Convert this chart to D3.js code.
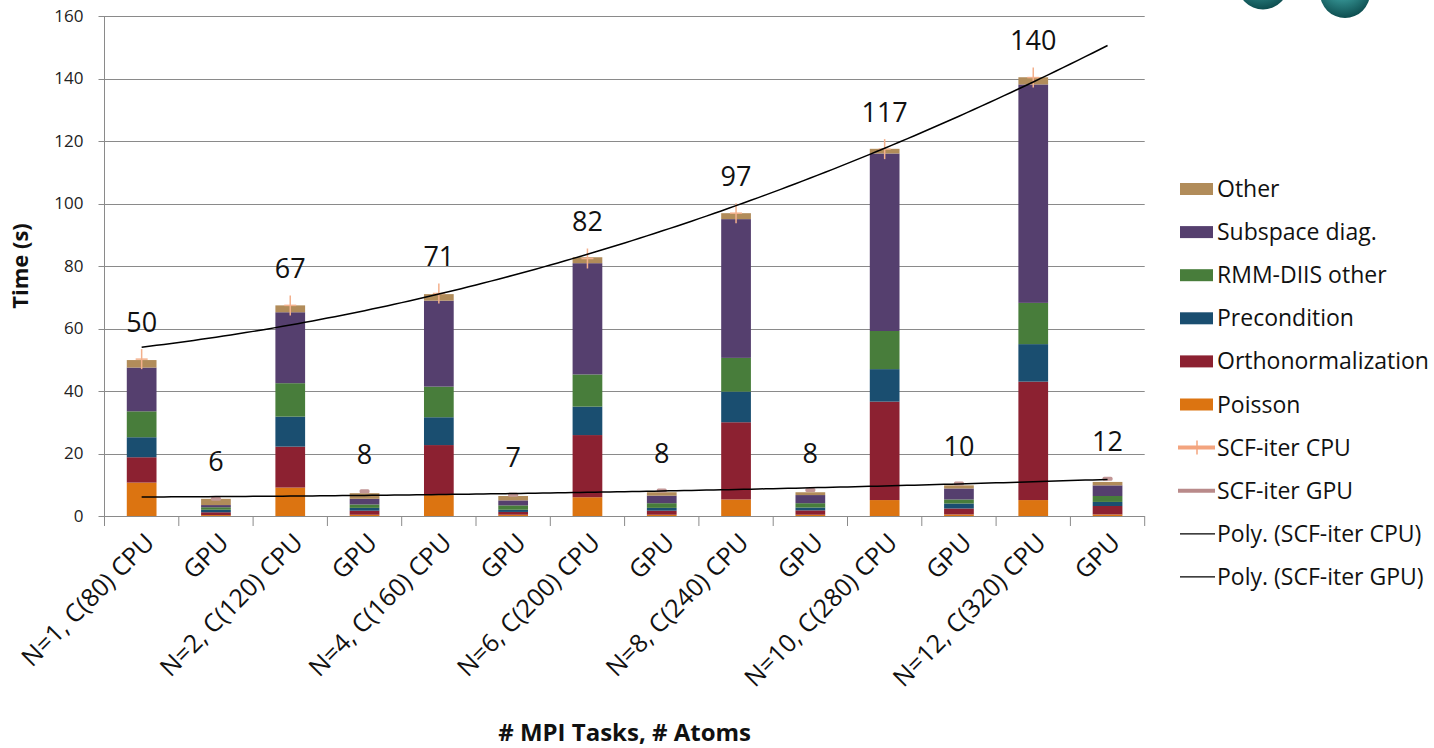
<!DOCTYPE html>
<html><head><meta charset="utf-8">
<script src="https://cdn.jsdelivr.net/npm/d3@7"></script>
<style>body{margin:0;background:#fff;} svg{display:block;font-family:"Open Sans",sans-serif;}</style>
</head><body><svg id="c" width="1434" height="748"></svg>
<script>
const categories = ["N=1, C(80) CPU","GPU","N=2, C(120) CPU","GPU","N=4, C(160) CPU","GPU","N=6, C(200) CPU","GPU","N=8, C(240) CPU","GPU","N=10, C(280) CPU","GPU","N=12, C(320) CPU","GPU"];
const poisson      = [10.7,0.3, 9.1,0.4, 6.7,0.4, 6.0,0.4, 5.3,0.4, 5.1,0.5, 5.1,0.5];
const ortho        = [8.1,0.9, 13.1,1.3, 16.0,0.9, 19.9,1.3, 24.7,1.4, 31.5,1.9, 37.9,2.7];
const precondition = [6.4,0.8, 9.6,0.9, 8.9,0.7, 9.1,0.9, 9.8,0.9, 10.4,1.6, 12.0,1.3];
const rmmDiis      = [8.3,0.8, 10.7,1.1, 9.8,1.4, 10.3,1.5, 10.8,1.4, 12.2,1.3, 13.2,1.9];
const subspace     = [14.0,0.7, 22.7,1.8, 27.5,1.6, 35.6,2.4, 44.4,2.6, 56.8,3.5, 69.9,3.4];
const other        = [2.4,2.0, 2.2,1.8, 2.1,1.4, 1.9,1.1, 1.9,0.9, 1.5,1.0, 2.3,1.1];
const scfCpu = [50.2,null,67.4,null,71.2,null,82.4,null,96.9,null,117.4,null,140.3,null];
const scfGpu = [null,5.5,null,7.9,null,6.8,null,8.2,null,8.3,null,10.4,null,11.9];
const yTicks = [0,20,40,60,80,100,120,140,160];
const seriesNames = ["Poisson","Orthonormalization","Precondition","RMM-DIIS other","Subspace diag.","Other"];
const seriesColors = ["#dc7411","#8c2131","#1a4e70","#487d3b","#553f6e","#b18c5a"];

const svg = d3.select("#c");
const L = 104.5, R = 1144.7, T = 16, B = 516;

const x = d3.scaleBand().domain(categories.map((c,i)=>i)).range([L,R]).paddingInner(0.6).paddingOuter(0.3);
const y = d3.scaleLinear().domain([0,160]).range([B,T]);
const cx = i => x(i) + x.bandwidth()/2;

// spheres (decorative image at top right)
const defs = svg.append("defs");
const rg = defs.append("radialGradient").attr("id","sph").attr("cx","0.45").attr("cy","0.3").attr("r","0.7");
rg.append("stop").attr("offset","0%").attr("stop-color","#9fe0e0");
rg.append("stop").attr("offset","35%").attr("stop-color","#3a9c9c");
rg.append("stop").attr("offset","100%").attr("stop-color","#0d4d4f");
svg.append("circle").attr("cx",1263).attr("cy",-16).attr("r",25.5).attr("fill","url(#sph)");
svg.append("circle").attr("cx",1345).attr("cy",-7).attr("r",25).attr("fill","url(#sph)");

// gridlines
svg.append("g").selectAll("line").data(yTicks).join("line")
  .attr("x1",L-6).attr("x2",R).attr("y1",d=>Math.round(y(d))+0.5).attr("y2",d=>Math.round(y(d))+0.5)
  .attr("stroke","#8a8a8a").attr("stroke-width",1);
svg.append("line").attr("x1",L).attr("x2",L).attr("y1",T).attr("y2",B).attr("stroke","#8a8a8a");
svg.append("g").selectAll("text").data(yTicks).join("text")
  .attr("x",L-21).attr("y",d=>y(d)).attr("dy","0.35em").attr("text-anchor","end")
  .attr("font-size",17).attr("fill","#222").text(d=>d);

// x axis tick marks at band boundaries
const bounds = d3.range(categories.length+1).map(i=>L + i*(R-L)/categories.length);
svg.append("g").selectAll("line").data(bounds).join("line")
  .attr("x1",d=>d).attr("x2",d=>d).attr("y1",B).attr("y2",B+10).attr("stroke","#8a8a8a");

// stacked bars
const rows = categories.map((c,i)=>({i, Poisson:poisson[i], Orthonormalization:ortho[i], Precondition:precondition[i], "RMM-DIIS other":rmmDiis[i], "Subspace diag.":subspace[i], Other:other[i]}));
const stack = d3.stack().keys(seriesNames)(rows);
svg.append("g").selectAll("g").data(stack).join("g")
  .attr("fill",(d,k)=>seriesColors[k])
  .selectAll("rect").data(d=>d).join("rect")
  .attr("x",d=>x(d.data.i)).attr("width",x.bandwidth())
  .attr("y",d=>y(d[1])).attr("height",d=>y(d[0])-y(d[1]));

// polynomial trend (order 2, least squares)
function polyfit(xs, ys, deg){
  const n = deg+1, A = [], b = [];
  for(let r=0;r<n;r++){ A.push([]); for(let c=0;c<n;c++) A[r].push(d3.sum(xs,v=>Math.pow(v,r+c))); b.push(d3.sum(xs,(v,k)=>ys[k]*Math.pow(v,r))); }
  for(let p=0;p<n;p++){ let m=p; for(let r=p+1;r<n;r++) if(Math.abs(A[r][p])>Math.abs(A[m][p])) m=r;
    [A[p],A[m]]=[A[m],A[p]]; [b[p],b[m]]=[b[m],b[p]];
    for(let r=p+1;r<n;r++){ const f=A[r][p]/A[p][p]; for(let c=p;c<n;c++) A[r][c]-=f*A[p][c]; b[r]-=f*b[p]; } }
  const co = new Array(n).fill(0);
  for(let r=n-1;r>=0;r--){ let s=b[r]; for(let c=r+1;c<n;c++) s-=A[r][c]*co[c]; co[r]=s/A[r][r]; }
  return t => co.reduce((acc,cc,k)=>acc+cc*Math.pow(t,k),0);
}
const xi = d3.scaleLinear().domain([1,categories.length]).range([cx(0), cx(categories.length-1)]);
function trend(arr){
  const xs=[], ys=[]; arr.forEach((v,k)=>{ if(v!=null){ xs.push(k+1); ys.push(v);} });
  const f = polyfit(xs, ys, 2);
  const pts = d3.range(1, categories.length+0.001, 0.1).map(t=>[xi(t), y(f(t))]);
  svg.append("path").attr("d", d3.line()(pts)).attr("fill","none").attr("stroke","#000").attr("stroke-width",1.5);
}

// SCF markers
svg.append("g").selectAll("g").data(scfCpu.map((v,i)=>({v,i})).filter(d=>d.v!=null)).join("g")
  .attr("transform",d=>`translate(${cx(d.i)},${y(d.v)})`)
  .call(g=>{ g.append("line").attr("y1",-10).attr("y2",10).attr("stroke","#f3b08c").attr("stroke-width",1.5);
             g.append("line").attr("x1",-6).attr("x2",6).attr("stroke","#f3b08c").attr("stroke-width",1.5); });
svg.append("g").selectAll("rect").data(scfGpu.map((v,i)=>({v,i})).filter(d=>d.v!=null)).join("rect")
  .attr("x",d=>cx(d.i)-5).attr("y",d=>y(d.v)-2).attr("width",10).attr("height",4).attr("rx",1.5)
  .attr("fill","#c29696");

trend(scfCpu);
trend(scfGpu);

// data labels
const fmt = d3.format(".0f");
svg.append("g").selectAll("text").data(scfCpu.map((v,i)=>({v,i})).concat(scfGpu.map((v,i)=>({v,i}))).filter(d=>d.v!=null)).join("text")
  .attr("x",d=>cx(d.i)).attr("y",d=>y(d.v)-37).attr("dy","0.35em").attr("text-anchor","middle")
  .attr("font-size",27).attr("fill","#111").text(d=>fmt(d.v));

// x labels
svg.append("g").selectAll("text").data(categories).join("text")
  .attr("transform",(d,i)=>`translate(${cx(i)+8},${B+22}) rotate(-45)`)
  .attr("text-anchor","end").attr("dy","0.35em").attr("font-size",25).attr("fill","#111").text(d=>d);

// axis titles
svg.append("text").attr("transform",`translate(28,${(T+B)/2}) rotate(-90)`).attr("text-anchor","middle")
  .attr("font-size",22).attr("font-weight","bold").attr("fill","#111").text("Time (s)");
svg.append("text").attr("x",(L+R)/2).attr("y",733).attr("dy","0.35em").attr("text-anchor","middle")
  .attr("font-size",24).attr("font-weight","bold").attr("fill","#111").text("# MPI Tasks, # Atoms");

// legend
const legendItems = [
  {name:"Other", type:"rect", color:seriesColors[5]},
  {name:"Subspace diag.", type:"rect", color:seriesColors[4]},
  {name:"RMM-DIIS other", type:"rect", color:seriesColors[3]},
  {name:"Precondition", type:"rect", color:seriesColors[2]},
  {name:"Orthonormalization", type:"rect", color:seriesColors[1]},
  {name:"Poisson", type:"rect", color:seriesColors[0]},
  {name:"SCF-iter CPU", type:"cpu", color:"#f3a47e"},
  {name:"SCF-iter GPU", type:"gpu", color:"#b98a8a"},
  {name:"Poly. (SCF-iter CPU)", type:"poly", color:"#000"},
  {name:"Poly. (SCF-iter GPU)", type:"poly", color:"#000"}
];
const lg = svg.append("g").selectAll("g").data(legendItems).join("g")
  .attr("transform",(d,k)=>`translate(1180,${189 + k*43.1})`);
lg.each(function(d){
  const g = d3.select(this);
  if(d.type==="rect") g.append("rect").attr("x",0).attr("y",-6).attr("width",33).attr("height",12).attr("fill",d.color);
  else if(d.type==="cpu"){ g.append("line").attr("x1",-2).attr("x2",35).attr("stroke",d.color).attr("stroke-width",4);
    g.append("line").attr("x1",17).attr("x2",17).attr("y1",-7).attr("y2",7).attr("stroke",d.color).attr("stroke-width",1.5); }
  else if(d.type==="gpu") g.append("line").attr("x1",-2).attr("x2",35).attr("stroke",d.color).attr("stroke-width",4);
  else g.append("line").attr("x1",0).attr("x2",35).attr("stroke",d.color).attr("stroke-width",1.2);
  g.append("text").attr("x",37).attr("dy","0.35em").attr("font-size",23).attr("fill","#111").text(d.name);
});
</script></body></html>
